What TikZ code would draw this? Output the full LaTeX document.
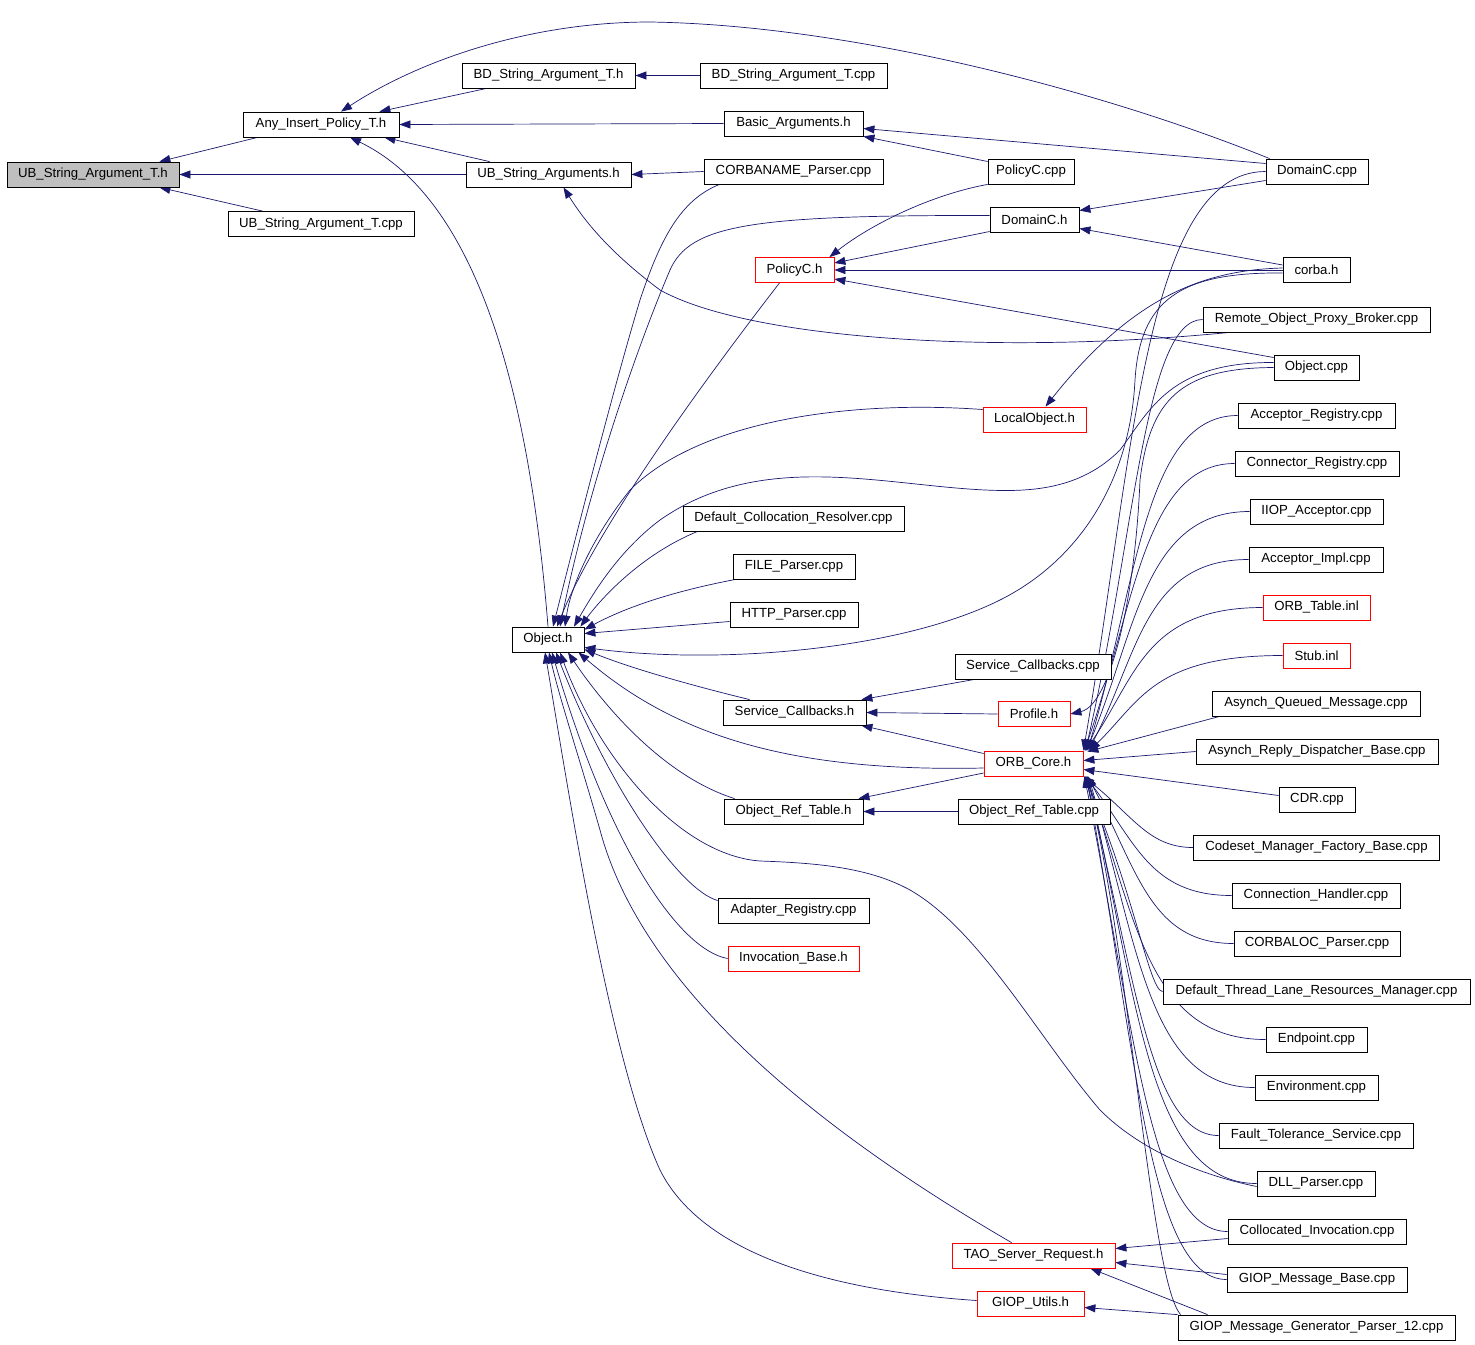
\documentclass[tikz,border=0pt]{standalone}
\usepackage{fontspec}
\setmainfont{Liberation Sans}
\usetikzlibrary{arrows.meta}
\definecolor{navy}{HTML}{191970}
\definecolor{boxred}{HTML}{FF0000}
\definecolor{boxgray}{HTML}{BFBFBF}
\pgfdeclarelayer{bg}
\pgfsetlayers{bg,main}
\begin{document}
\begin{tikzpicture}[x=1pt,y=-1pt,
 box/.style={draw=black, line width=0.8pt, fill=white, minimum height=25pt, inner sep=0pt, font=\fontsize{13.2}{15}\selectfont, text=black},
 redbox/.style={box, draw=boxred},
 dep/.style={draw=navy, line width=0.7pt, -{Triangle[length=11pt,width=8pt]}}]
\begin{pgfonlayer}{bg}
\fill[white] (0,0) rectangle (1475,1344);
\end{pgfonlayer}
\useasboundingbox (0,0) rectangle (1475,1344);
% column A
\node[box, fill=boxgray, minimum width=172pt] (a1) at (93,174.5) {UB\_String\_Argument\_T.h};
\node[box, minimum width=156pt] (a2) at (321,124.5) {Any\_Insert\_Policy\_T.h};
\node[box, minimum width=186pt] (a3) at (321,224) {UB\_String\_Argument\_T.cpp};
% column B
\node[box, minimum width=173pt] (b1) at (548.5,75.5) {BD\_String\_Argument\_T.h};
\node[box, minimum width=165pt] (b2) at (548.5,174.5) {UB\_String\_Arguments.h};
\node[box, minimum width=72pt] (b3) at (548,639.5) {Object.h};
% column C
\node[box, minimum width=187pt] (c1) at (793.5,75.5) {BD\_String\_Argument\_T.cpp};
\node[box, minimum width=139pt] (c2) at (793.5,123.5) {Basic\_Arguments.h};
\node[box, minimum width=179pt] (c3) at (793.5,171.5) {CORBANAME\_Parser.cpp};
\node[redbox, minimum width=79pt] (c4) at (794.5,270) {PolicyC.h};
\node[box, minimum width=221pt] (c5) at (793.5,518.5) {Default\_Collocation\_Resolver.cpp};
\node[box, minimum width=122pt] (c6) at (794,566.5) {FILE\_Parser.cpp};
\node[box, minimum width=128pt] (c7) at (794,614.5) {HTTP\_Parser.cpp};
\node[box, minimum width=143pt] (c8) at (794.5,712.5) {Service\_Callbacks.h};
\node[box, minimum width=139pt] (c9) at (793.5,811.5) {Object\_Ref\_Table.h};
\node[box, minimum width=151pt] (c10) at (793.5,910.5) {Adapter\_Registry.cpp};
\node[redbox, minimum width=131pt] (c11) at (793.5,958.5) {Invocation\_Base.h};
% column D
\node[box, minimum width=86pt] (d1) at (1031,171.5) {PolicyC.cpp};
\node[box, minimum width=89pt] (d2) at (1034.5,219.5) {DomainC.h};
\node[redbox, minimum width=103pt] (d3) at (1034.5,419.5) {LocalObject.h};
\node[box, minimum width=156pt] (d4) at (1033,666.5) {Service\_Callbacks.cpp};
\node[redbox, minimum width=72pt] (d5) at (1034,714) {Profile.h};
\node[redbox, minimum width=99pt] (d6) at (1033.5,763.5) {ORB\_Core.h};
\node[box, minimum width=152pt] (d7) at (1034,811.5) {Object\_Ref\_Table.cpp};
\node[redbox, minimum width=163pt] (d8) at (1033.5,1255.5) {TAO\_Server\_Request.h};
\node[redbox, minimum width=107pt] (d9) at (1030.5,1303.5) {GIOP\_Utils.h};
% right column
\node[box, minimum width=102pt] (r1) at (1317,171.5) {DomainC.cpp};
\node[box, minimum width=67pt] (r2) at (1316.5,270) {corba.h};
\node[box, minimum width=227pt] (r3) at (1316.5,319.5) {Remote\_Object\_Proxy\_Broker.cpp};
\node[box, minimum width=85pt] (r4) at (1316.5,367.5) {Object.cpp};
\node[box, minimum width=157pt] (r5) at (1316.5,415.5) {Acceptor\_Registry.cpp};
\node[box, minimum width=164pt] (r6) at (1317,463.5) {Connector\_Registry.cpp};
\node[box, minimum width=133pt] (r7) at (1316.5,511.5) {IIOP\_Acceptor.cpp};
\node[box, minimum width=134pt] (r8) at (1316,559.5) {Acceptor\_Impl.cpp};
\node[redbox, minimum width=107pt] (r9) at (1316.5,607.5) {ORB\_Table.inl};
\node[redbox, minimum width=67pt] (r10) at (1316.5,655.5) {Stub.inl};
\node[box, minimum width=208pt] (r11) at (1316,703.5) {Asynch\_Queued\_Message.cpp};
\node[box, minimum width=242pt] (r12) at (1317,751.5) {Asynch\_Reply\_Dispatcher\_Base.cpp};
\node[box, minimum width=76pt] (r13) at (1317,799.5) {CDR.cpp};
\node[box, minimum width=246pt] (r14) at (1316.5,847.5) {Codeset\_Manager\_Factory\_Base.cpp};
\node[box, minimum width=168pt] (r15) at (1316,895.5) {Connection\_Handler.cpp};
\node[box, minimum width=166pt] (r16) at (1317,943.5) {CORBALOC\_Parser.cpp};
\node[box, minimum width=307pt] (r17) at (1316.5,991.5) {Default\_Thread\_Lane\_Resources\_Manager.cpp};
\node[box, minimum width=101pt] (r18) at (1316.5,1039.5) {Endpoint.cpp};
\node[box, minimum width=123pt] (r19) at (1316.5,1087.5) {Environment.cpp};
\node[box, minimum width=194pt] (r20) at (1316,1135.5) {Fault\_Tolerance\_Service.cpp};
\node[box, minimum width=118pt] (r21) at (1316,1183.5) {DLL\_Parser.cpp};
\node[box, minimum width=178pt] (r22) at (1317,1231.5) {Collocated\_Invocation.cpp};
\node[box, minimum width=180pt] (r23) at (1317,1279.5) {GIOP\_Message\_Base.cpp};
\node[box, minimum width=277pt] (r24) at (1316.5,1327.5) {GIOP\_Message\_Generator\_Parser\_12.cpp};

\begin{pgfonlayer}{bg}
% left part
\draw[dep] ([xshift=15pt]a2.south west) -- ([xshift=-20pt]a1.north east);
\draw[dep] (b2.west) -- (a1.east);
\draw[dep] ([xshift=35pt]a3.north west) -- ([xshift=-20pt]a1.south east);
\draw[dep] ([xshift=25pt]b1.south west) -- ([xshift=-20pt]a2.north east);
\draw[dep] (c2.west) -- (a2.east);
\draw[dep] ([xshift=24pt]b2.north west) -- ([xshift=-15pt]a2.south east);
\draw[dep] ([xshift=4pt]r1.north west) .. controls (1100,90) and (850,25) .. (650,22) .. controls (530,22) and (420,60) .. ([xshift=20pt]a2.north);
\draw[dep] (b3.north) .. controls (530,400) and (480,200) .. ([xshift=29pt]a2.south);
\draw[dep] (c1.west) -- (b1.east);
\draw[dep] (c3.west) -- (b2.east);
\draw[dep] ([xshift=27pt]r3.south west) .. controls (1000,355) and (750,340) .. (660,290) .. controls (620,260) and (590,230) .. ([xshift=15pt]b2.south);
\draw[dep] ([yshift=8pt]r1.west) -- ([yshift=-5pt]c2.east);
\draw[dep] ([yshift=10pt]d1.west) -- (c2.south east);
\draw[dep] (d1.south west) .. controls (930,195) and (870,225) .. ([xshift=-5pt]c4.north east);
\draw[dep] ([yshift=-12pt]d2.west) -- ([yshift=7pt]c4.east);
\draw[dep] (r2.west) -- (c4.east);
\draw[dep] ([yshift=10pt]r4.west) -- ([yshift=-9pt]c4.east);
\draw[dep] ([yshift=-9pt]r1.west) -- ([yshift=9pt]d2.east);
\draw[dep] ([yshift=5pt]r2.west) -- ([yshift=-9pt]d2.east);

% into Object.h
\draw[dep] ([yshift=4pt]d2.west) .. controls (750,215) and (690,225) .. (670,270) .. controls (640,340) and (590,480) .. ([xshift=12pt]b3.north);
\draw[dep] ([xshift=16pt]c3.south west) .. controls (680,200) and (660,240) .. (640,300) .. controls (610,400) and (570,560) .. ([xshift=5pt]b3.north);
\draw[dep] ([xshift=-15pt]c4.south) .. controls (720,360) and (600,520) .. ([xshift=9pt]b3.north);
\draw[dep] ([yshift=10pt]d3.west) .. controls (850,400) and (700,420) .. (630,490) .. controls (590,540) and (570,590) .. ([xshift=17pt]b3.north);
\draw[dep] ([yshift=5pt]r4.west) .. controls (1170,362) and (1150,410) .. (1120,450) .. controls (1080,490) and (1030,492) .. (985,490) .. controls (880,485) and (760,450) .. (660,520) .. controls (620,550) and (595,590) .. ([xshift=26pt]b3.north);
\draw[dep] ([xshift=15pt]c5.south west) .. controls (640,555) and (600,600) .. ([xshift=-4pt]b3.north east);
\draw[dep] ([xshift=3pt]c6.south west) .. controls (680,590) and (630,605) .. ([yshift=-3pt]b3.north east);
\draw[dep] ([yshift=-7pt]c7.west) -- ([yshift=6pt]b3.east);
\draw[dep] ([yshift=-3pt]r2.west) .. controls (1180,272) and (1140,300) .. (1135,380) .. controls (1130,480) and (1080,560) .. (1000,600) .. controls (900,650) and (720,665) .. ([yshift=-8pt]b3.east);
\draw[dep] ([xshift=27pt]c8.north west) .. controls (690,685) and (630,668) .. ([yshift=3pt]b3.south east);
\draw[dep] ([yshift=-4.5pt]d6.west) .. controls (800,772) and (680,740) .. ([xshift=-6pt]b3.south east);
\draw[dep] ([xshift=11pt]c9.north west) .. controls (660,775) and (600,700) .. ([xshift=20pt]b3.south);
\draw[dep] ([yshift=-3pt]r21.west) .. controls (1200,1175) and (1140,1150) .. (1100,1110) .. controls (1040,1040) and (980,930) .. (910,890) .. controls (870,868) and (820,863) .. (760,861) .. controls (680,855) and (600,760) .. ([xshift=12pt]b3.south);
\draw[dep] ([yshift=10pt]c10.west) .. controls (680,890) and (610,790) .. ([xshift=8pt]b3.south);
\draw[dep] (c11.west) .. controls (680,950) and (610,850) .. ([xshift=4pt]b3.south);
\draw[dep] ([xshift=60pt]d8.north west) .. controls (800,1120) and (640,980) .. (600,830) .. controls (580,760) and (560,700) .. ([xshift=1pt]b3.south);
\draw[dep] ([yshift=3pt]d9.west) .. controls (820,1290) and (700,1250) .. (660,1170) .. controls (610,1060) and (570,800) .. ([xshift=-3pt]b3.south);

% middle
\draw[dep] ([xshift=20pt]d4.south west) -- ([xshift=-5pt]c8.north east);
\draw[dep] (d5.west) -- (c8.east);
\draw[dep] ([yshift=10pt]d6.west) -- ([xshift=-5pt]c8.south east);
\draw[dep] ([yshift=-9.5pt]d6.west) -- ([xshift=-5pt]c9.north east);
\draw[dep] (d7.west) -- (c9.east);
\draw[dep] ([yshift=2pt]r2.west) .. controls (1200,270) and (1130,300) .. ([xshift=11pt]d3.north);
\draw[dep] (r4.west) .. controls (1180,368) and (1150,400) .. (1140,480) .. controls (1135,600) and (1110,705) .. (d5.east);

% upper bundle into ORB_Core.h
\foreach \n/\a/\b/\s in {r1/121/290/0, r3/58/216/2, r5/93/168/4, r6/90/144/1, r7/105/120/3, r8/104/96/5, r9/118/72/2, r10/130/48/6}
  \draw[dep] (\n.west) .. controls +(-\a,0) and +(50,-\b) .. ([xshift=\s pt]d6.north east);
\draw[dep] ([xshift=8pt]r11.south west) -- ([xshift=4pt,yshift=-1pt]d6.north east);
\draw[dep] (r12.west) -- ([yshift=3pt]d6.east);
\draw[dep] ([yshift=4pt]r13.west) -- ([yshift=-6pt]d6.east);
% lower bundle into ORB_Core.h
\foreach \n/\a/\b/\s in {r14/44/40/0, r15/82/65/2, r16/84/92/4, r17/13/118/1, r18/116/145/3, r19/105/171/5, r20/69/198/2, r21/107/224/4, r22/78/251/1, r23/77/277/3}
  \draw[dep] (\n.west) .. controls +(-\a,0) and +(50,\b) .. ([xshift=\s pt]d6.south east);
\draw[dep] ([xshift=3pt]r24.north west) .. controls (1150,1280) and (1130,950) .. ([xshift=2pt]d6.south east);

% bottom
\draw[dep] ([yshift=-7pt]r22.west) -- ([yshift=7pt]d8.east);
\draw[dep] ([yshift=5pt]r23.west) -- ([yshift=-7pt]d8.east);
\draw[dep] ([xshift=30pt]r24.north west) -- ([xshift=-25pt]d8.south east);
\draw[dep] (r24.north west) -- ([yshift=-4pt]d9.east);
\end{pgfonlayer}
\end{tikzpicture}
\end{document}
